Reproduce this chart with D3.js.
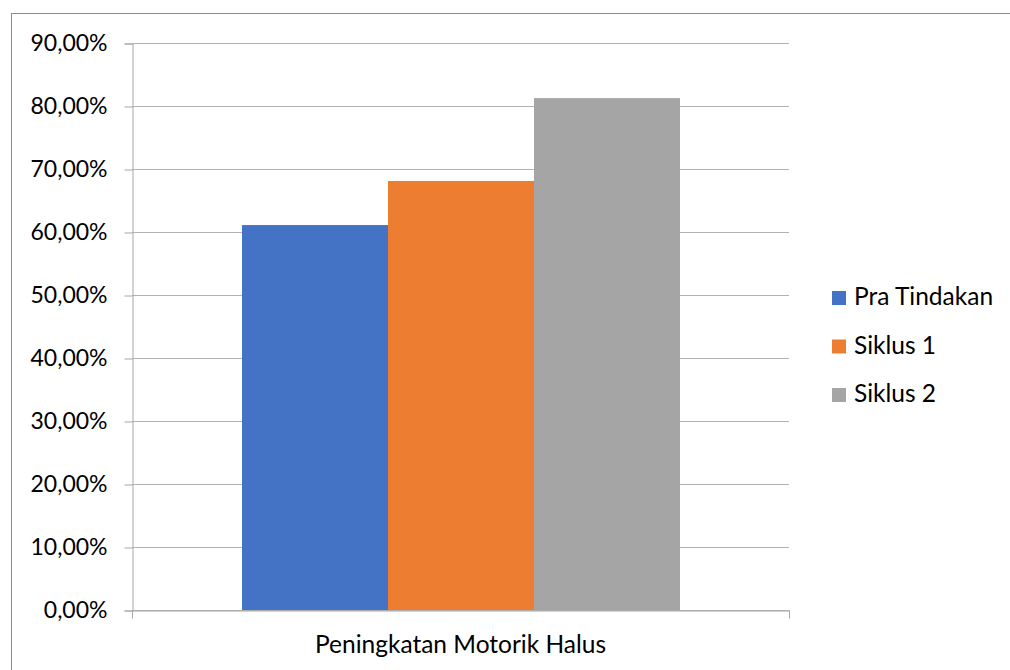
<!DOCTYPE html>
<html>
<head>
<meta charset="utf-8">
<script src="https://cdn.jsdelivr.net/npm/d3@7"></script>
<style>
  html, body { margin: 0; padding: 0; background: #fff; }
  svg { display: block; }
  text { font-family: Lato, "Open Sans", sans-serif; fill: #000; }
</style>
</head>
<body>
<svg id="chart" width="1010" height="670"></svg>
<script>
// Chart data
const category = "Peningkatan Motorik Halus";
const seriesNames = ["Pra Tindakan", "Siklus 1", "Siklus 2"];
const seriesValues = [61.1, 68.1, 81.25];
const seriesColors = ["#4472c4", "#ed7d31", "#a5a5a5"];
const yTicks = [0, 10, 20, 30, 40, 50, 60, 70, 80, 90];

const svg = d3.select("#chart");

// Outer chart frame
svg.append("rect")
  .attr("x", 11.5).attr("y", 13.5)
  .attr("width", 1010).attr("height", 700)
  .attr("fill", "none").attr("stroke", "#8c8c8c").attr("stroke-width", 1);

const plot = { left: 132, right: 789, top: 43, bottom: 610 };

const y = d3.scaleLinear().domain([0, 90]).range([plot.bottom, plot.top]);
const x0 = d3.scaleBand().domain([category]).range([plot.left, plot.right])
  .paddingInner(0).paddingOuter(0);
// 150% gap width: the three bars fill 3 / (3 + 1.5) of the category band
const groupWidth = x0.bandwidth() * 3 / 4.5;
const x1 = d3.scaleBand().domain(seriesNames)
  .range([x0(category) + (x0.bandwidth() - groupWidth) / 2,
          x0(category) + (x0.bandwidth() + groupWidth) / 2]);

// Horizontal gridlines
svg.append("g").selectAll("line").data(yTicks).join("line")
  .attr("x1", plot.left).attr("x2", plot.right)
  .attr("y1", d => Math.round(y(d)) + 0.5).attr("y2", d => Math.round(y(d)) + 0.5)
  .attr("stroke", "#b3b3b3").attr("stroke-width", 1);

// Bars (edges snapped to whole pixels so neighbours meet cleanly)
svg.append("g").selectAll("rect").data(seriesValues).join("rect")
  .attr("x", (d, i) => Math.round(x1(seriesNames[i])))
  .attr("width", (d, i) => Math.round(x1(seriesNames[i]) + x1.bandwidth()) - Math.round(x1(seriesNames[i])))
  .attr("y", d => y(d))
  .attr("height", d => y(0) - y(d))
  .attr("fill", (d, i) => seriesColors[i]);

// Y axis
const fmt = d => d.toFixed(2).replace(".", ",") + "%";
const yAxis = svg.append("g")
  .attr("transform", `translate(${plot.left + 0.5},0.5)`)
  .call(d3.axisLeft(y).tickValues(yTicks).tickFormat(fmt).tickSize(8).tickPadding(17));
yAxis.select(".domain").attr("stroke", "#a6a6a6");
yAxis.selectAll(".tick line").attr("stroke", "#a6a6a6");
yAxis.selectAll(".tick text")
  .style("font-size", "23px").style("font-family", "Lato, 'Open Sans', sans-serif").attr("fill", "#000");

// X axis
const xAxis = svg.append("g")
  .attr("transform", `translate(0,${plot.bottom + 0.5})`)
  .call(d3.axisBottom(x0).tickSize(0).tickPadding(42));
xAxis.select(".domain").attr("stroke", "#a6a6a6");
xAxis.selectAll(".tick text")
  .style("font-size", "24.5px").style("font-family", "Lato, 'Open Sans', sans-serif").attr("fill", "#000")
  .attr("dy", "0");
// Boundary ticks at both ends of the category axis
xAxis.append("g").selectAll("line").data([plot.left, plot.right]).join("line")
  .attr("x1", d => d + 0.5).attr("x2", d => d + 0.5)
  .attr("y1", 0).attr("y2", 8)
  .attr("stroke", "#a6a6a6");

// Legend
const legend = svg.append("g").attr("transform", "translate(832,291)");
const rows = legend.selectAll("g").data(seriesNames).join("g")
  .attr("transform", (d, i) => `translate(0,${i * 48.5})`);
rows.append("rect").attr("width", 14).attr("height", 14)
  .attr("fill", (d, i) => seriesColors[i]);
rows.append("text").attr("x", 22).attr("y", 14)
  .style("font-size", "24.5px").text(d => d);
</script>
</body>
</html>
